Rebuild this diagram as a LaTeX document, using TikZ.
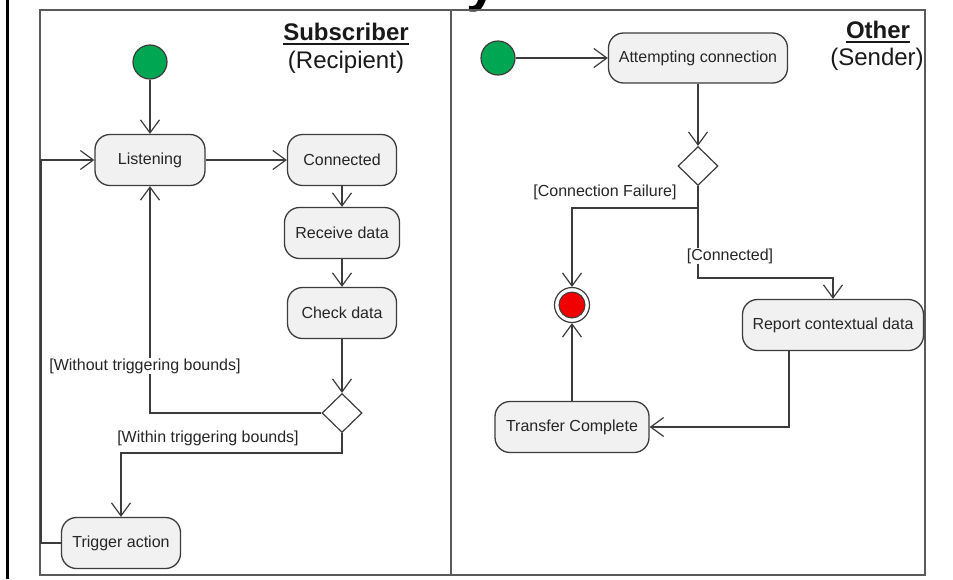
\documentclass[tikz,border=0pt]{standalone}
\usepackage{fontspec}
\setmainfont{Liberation Sans}
\usetikzlibrary{arrows.meta,shapes.geometric}
\definecolor{linegray}{HTML}{3C3C3C}
\definecolor{framegray}{HTML}{5A5A5A}
\definecolor{boxfill}{HTML}{F1F1F1}
\definecolor{startgreen}{HTML}{00A651}
\definecolor{endred}{HTML}{F00000}
\tikzset{
  activity/.style={draw=linegray, fill=boxfill, line width=1.3, rounded corners=15,
    minimum height=51, inner sep=0, font=\fontsize{16}{19}\selectfont, text=black!85},
  startdot/.style={circle, draw=linegray, fill=startgreen, line width=1.2, minimum size=34, inner sep=0},
  choice/.style={diamond, draw=linegray, fill=white, line width=1.2, minimum width=40, minimum height=39, inner sep=0},
  flow/.style={draw=linegray, line width=1.2, -{Straight Barb[length=13pt,width=19pt]}},
  guard/.style={fill=white, inner sep=1, font=\fontsize{16}{19}\selectfont, text=black!85},
  lanehead/.style={inner sep=0, font=\fontsize{24}{28}\selectfont, text=black!90},
}
\begin{document}
\begin{tikzpicture}[x=1pt, y=-1pt]
\useasboundingbox (0,0) rectangle (953,579);
\fill[white] (0,0) rectangle (953,579);

% heavy rule at the left edge and the tail of the cut-off heading
\draw[line width=3, black] (7,0) -- (7,579);
\begin{scope}
  \clip (0,0) rectangle (953,579);
  \node[anchor=base west, inner sep=0, font=\fontsize{56}{60}\selectfont\bfseries] (headtail) at (466,0) {y};
\end{scope}

% swimlane frame
\draw[framegray, line width=1.3] (40,10) rectangle (925,575);
\draw[framegray, line width=1.3] (451,10) -- (451,575);

% lane headings
\node[lanehead, font=\fontsize{24}{28}\selectfont\bfseries] (subhead) at (346,32) {Subscriber};
\draw[line width=2, black!90] ([yshift=-3]subhead.base west) -- ([yshift=-3]subhead.base east);
\node[lanehead] (subrole) at (346,62) {(Recipient)};
\node[lanehead, font=\fontsize{24}{28}\selectfont\bfseries] (othhead) at (878,30) {Other};
\draw[line width=2, black!90] ([yshift=-3]othhead.base west) -- ([yshift=-3]othhead.base east);
\node[lanehead] (othrole) at (877,59) {(Sender)};

% ---------- Subscriber lane ----------
\node[startdot] (startA) at (150,62) {};
\node[activity, minimum width=110] (listen) at (150,160) {Listening};
\node[activity, minimum width=109] (conn) at (342,160) {Connected};
\node[activity, minimum width=115] (recv) at (342,233) {Receive data};
\node[activity, minimum width=109] (check) at (342,313) {Check data};
\node[choice] (decA) at (342,413) {};
\node[activity, minimum width=119] (trig) at (121,543) {Trigger action};

\coordinate (backA) at (150,413);
\coordinate (bendA) at (121,453);
\coordinate (loopB) at (41,543);
\coordinate (loopT) at (41,160);

\draw[flow] (startA) -- (listen);
\draw[flow] (listen) -- (conn);
\draw[flow] (conn) -- (recv);
\draw[flow] (recv) -- (check);
\draw[flow] (check) -- (decA);
\draw[flow] (decA.west) -- (backA) -- (listen.south);
\draw[flow] (decA.south) |- (bendA) -- (trig.north);
\draw[flow] (trig.west) -- (loopB) -- (loopT) -- (listen.west);

\node[guard] (lblWithout) at (145,366) {[Without triggering bounds]};
\node[guard] (lblWithin) at (208,438) {[Within triggering bounds]};

% ---------- Other lane ----------
\node[startdot] (startB) at (498,58) {};
\node[activity, minimum width=179, minimum height=50] (attempt) at (698,58) {Attempting connection};
\node[choice] (decB) at (698,166) {};
\node[circle, draw=linegray, fill=white, line width=1.2, minimum size=35, inner sep=0] (final) at (572,305) {};
\node[circle, draw=linegray, fill=endred, line width=1, minimum size=26, inner sep=0] (finalcore) at (final.center) {};
\node[activity, minimum width=181] (report) at (833,325) {Report contextual data};
\node[activity, minimum width=154] (transfer) at (572,427) {Transfer Complete};

\coordinate (failBend) at (572,208);
\coordinate (okBend) at (833,278);

\draw[flow] (startB) -- (attempt);
\draw[flow] (attempt) -- (decB);
\draw[flow] (decB.south) |- (failBend) -- (final.north);
\draw[flow] (decB.south) |- (okBend) -- (report.north);
\draw[flow] ([xshift=-44]report.south) |- (transfer.east);
\draw[flow] (transfer.north) -- (final.south);

\node[guard] (lblFail) at (605,192) {[Connection Failure]};
\node[guard] (lblOk) at (730,256) {[Connected]};
\end{tikzpicture}
\end{document}
